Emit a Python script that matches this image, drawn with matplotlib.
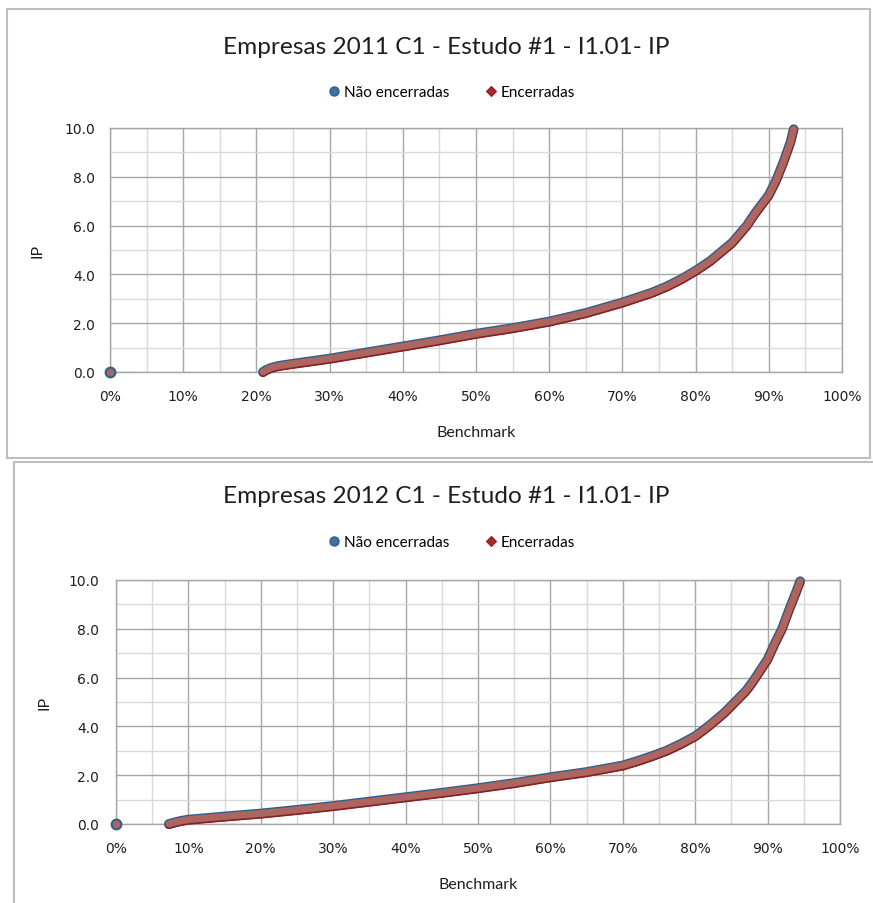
import matplotlib
matplotlib.use('Agg')
import matplotlib.pyplot as plt
import matplotlib.patheffects as pe
from matplotlib.lines import Line2D
from matplotlib.patches import Rectangle
from matplotlib.ticker import MultipleLocator, FuncFormatter

# Curvas IP x Benchmark (ordenadas) por ano
bench_2011 = [0.209, 0.213, 0.22, 0.23, 0.25, 0.30, 0.35, 0.40, 0.45, 0.50, 0.55,
              0.60, 0.65, 0.70, 0.72, 0.74, 0.76, 0.78, 0.80, 0.81, 0.82, 0.83, 0.84,
              0.85, 0.86, 0.87, 0.88, 0.89, 0.90, 0.91, 0.92, 0.93, 0.934]
ip_2011 = [0.0, 0.08, 0.17, 0.25, 0.34, 0.55, 0.80, 1.05, 1.30, 1.57, 1.80,
           2.07, 2.42, 2.85, 3.05, 3.25, 3.50, 3.80, 4.15, 4.35, 4.55, 4.80, 5.05,
           5.30, 5.65, 6.00, 6.45, 6.85, 7.25, 7.85, 8.60, 9.45, 9.95]

bench_2012 = [0.073, 0.08, 0.09, 0.10, 0.15, 0.20, 0.25, 0.30, 0.35, 0.40, 0.45, 0.50,
              0.55, 0.60, 0.65, 0.70, 0.72, 0.74, 0.76, 0.78, 0.80, 0.81, 0.82, 0.83,
              0.84, 0.85, 0.86, 0.87, 0.88, 0.89, 0.90, 0.91, 0.92, 0.93, 0.94, 0.945]
ip_2012 = [0.0, 0.06, 0.13, 0.18, 0.31, 0.43, 0.58, 0.74, 0.92, 1.10, 1.28, 1.47,
           1.68, 1.92, 2.13, 2.40, 2.58, 2.78, 3.00, 3.28, 3.60, 3.82, 4.05, 4.30,
           4.55, 4.85, 5.15, 5.45, 5.85, 6.30, 6.75, 7.40, 8.00, 8.80, 9.55, 9.95]

# ponto isolado em 0%
zero_x = [0.0]
zero_y = [0.0]

titulos = ['Empresas 2011 C1 - Estudo #1 - I1.01- IP',
           'Empresas 2012 C1 - Estudo #1 - I1.01- IP']
series = ['Não encerradas', 'Encerradas']

azul = '#2F5F8E'
azul_claro = '#41719F'
vermelho = '#AD655F'
vermelho_esc = '#8B1E1E'
texto = '#1E1E1E'

fig = plt.figure(figsize=(8.73, 9.04), dpi=100)
W, H = 873, 904

# molduras dos dois graficos
fig.patches.append(Rectangle((7 / W, 1 - 459 / H), 863 / W, 449 / H, transform=fig.transFigure,
                             fill=False, edgecolor='#BEBEBE', lw=1.5))
fig.patches.append(Rectangle((14 / W, -0.01), 1.0, (904 - 463) / H + 0.01, transform=fig.transFigure,
                             fill=False, edgecolor='#BEBEBE', lw=1.5))

paineis = [
    dict(x=bench_2011, y=ip_2011, rect=[110 / W, 1 - 373 / H, 732 / W, 244 / H],
         titulo_y=1 - 47 / H, leg_y=1 - 93 / H, ypad=11, xpad=12),
    dict(x=bench_2012, y=ip_2012, rect=[116 / W, 1 - 825 / H, 724 / W, 244 / H],
         titulo_y=1 - 497 / H, leg_y=1 - 543 / H, ypad=12, xpad=12),
]

for p, titulo in zip(paineis, titulos):
    ax = fig.add_axes(p['rect'])
    ax.set_xlim(0, 1)
    ax.set_ylim(0, 10)
    ax.xaxis.set_major_locator(MultipleLocator(0.1))
    ax.xaxis.set_minor_locator(MultipleLocator(0.05))
    ax.yaxis.set_major_locator(MultipleLocator(2))
    ax.yaxis.set_minor_locator(MultipleLocator(1))
    ax.xaxis.set_major_formatter(FuncFormatter(lambda v, pos: '%d%%' % round(v * 100)))
    ax.yaxis.set_major_formatter(FuncFormatter(lambda v, pos: '%.1f' % v))
    ax.grid(which='major', color='#A6A6A6', lw=1.0)
    ax.grid(which='minor', color='#D9D9D9', lw=1.0)
    ax.set_axisbelow(True)
    ax.tick_params(which='both', length=0, labelsize=10, colors=texto)
    ax.tick_params(axis='y', pad=p['ypad'])
    ax.tick_params(axis='x', pad=p['xpad'])
    for s in ax.spines.values():
        s.set_color('#A6A6A6')
        s.set_linewidth(1.0)

    # Nao encerradas (azul) por baixo, Encerradas (vermelho) por cima
    ax.plot(p['x'], p['y'], color=azul, lw=7.0, solid_capstyle='round', solid_joinstyle='round',
            zorder=3, clip_on=False)
    ax.plot(p['x'], p['y'], color=vermelho, lw=5.0, solid_capstyle='round', solid_joinstyle='round',
            zorder=4, clip_on=False,
            path_effects=[pe.Stroke(linewidth=5.8, foreground=vermelho_esc, offset=(0, -0.8)),
                          pe.Normal()])
    ax.plot(zero_x, zero_y, 'o', ms=7, mfc=vermelho, mec=azul, mew=1.5, zorder=5, clip_on=False)

    ax.set_xlabel('Benchmark', fontsize=11.5, family='Lato', color=texto)
    ax.xaxis.set_label_coords(0.5, -0.218)
    ax.set_ylabel('IP', fontsize=11.5, family='Lato', color=texto)
    ax.yaxis.set_label_coords(-0.089, 0.5)

    fig.text(446 / W, p['titulo_y'], titulo, ha='center', va='center', fontsize=17.6,
             family='Lato', color=texto)

    handles = [Line2D([], [], ls='none', marker='o', ms=6.5, mfc=azul_claro, mec=azul, mew=1),
               Line2D([], [], ls='none', marker='D', ms=4.8, mfc='#A62B2B', mec=vermelho_esc, mew=0.8)]
    fig.legend(handles, series, loc='center', bbox_to_anchor=(451 / W, p['leg_y']),
               ncol=2, frameon=False, handletextpad=0.15, columnspacing=2.2,
               handlelength=1.0, prop={'family': 'Lato', 'size': 11})

fig.savefig('out.png', dpi=100)
